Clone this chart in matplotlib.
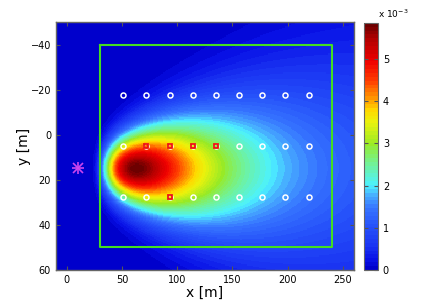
import numpy as np
import matplotlib
matplotlib.use("Agg")
import matplotlib.pyplot as plt
from matplotlib.colors import LinearSegmentedColormap, ListedColormap

# ---- data ----
sensor_x = [51, 72, 93, 114, 135, 156, 177, 198, 219]
sensor_rows = [-17.5, 5, 27.5]
active_x = [72, 93, 114, 135, 93]
active_y = [5, 5, 5, 5, 27.5]
source_xy = (10, 15)
area_x = [30, 240]
area_y = [-40, 50]
# plume model parameters (estimated)
c_max = 5.86e-3
d_peak = 53.0
p_decay = 1.9
s_rise = 1.2
sig0 = 5.0
sig_a = 0.13
xlim = (-10, 260)
ylim = (60, -50)
xticks = [0, 50, 100, 150, 200, 250]
yticks = [-40, -20, 0, 20, 40, 60]
cticks = [0, 1, 2, 3, 4, 5]

# ---- field ----
xs = np.arange(xlim[0], xlim[1] + 0.5, 0.5)
ys = np.arange(ylim[1], ylim[0] + 0.5, 0.5)
X, Y = np.meshgrid(xs, ys)
d = X - source_xy[0]
C = np.zeros_like(X)
m = d > 0.5
dm = d[m]
f = (d_peak / dm) ** p_decay * np.exp((p_decay / s_rise) * (1 - (d_peak / dm) ** s_rise))
sig = sig0 + sig_a * dm
C[m] = c_max * f * np.exp(-(Y[m] - source_xy[1]) ** 2 / (2 * sig ** 2))

nodes = [(0.0, (0.0, 0.0, 0.80)), (0.03, (0.03, 0.06, 0.90)),
         (0.09, (0.10, 0.20, 0.95)), (0.17, (0.15, 0.32, 0.98)),
         (0.25, (0.22, 0.47, 1.0)), (0.30, (0.28, 0.68, 1.0)),
         (0.34, (0.30, 0.95, 1.0)), (0.43, (0.45, 0.95, 0.58)),
         (0.51, (0.60, 0.92, 0.15)), (0.60, (0.92, 0.95, 0.05)),
         (0.65, (1.0, 0.85, 0.0)), (0.69, (1.0, 0.62, 0.0)),
         (0.77, (1.0, 0.25, 0.0)), (0.85, (0.94, 0.0, 0.0)),
         (0.94, (0.70, 0.0, 0.0)), (1.0, (0.43, 0.0, 0.0))]
base = LinearSegmentedColormap.from_list("jetlike", nodes)
cmap = ListedColormap(base(np.linspace(0, 1, 64)))

fig = plt.figure(figsize=(4.3, 3.05), dpi=100)
ax = fig.add_axes([0.130, 0.115, 0.693, 0.813])
im = ax.imshow(C, extent=[xs[0], xs[-1], ys[-1], ys[0]], origin="upper",
               aspect="auto", cmap=cmap, vmin=0, vmax=c_max, interpolation="nearest")
ax.set_xlim(*xlim)
ax.set_ylim(*ylim)

# monitoring area
ax.plot([area_x[0], area_x[1], area_x[1], area_x[0], area_x[0]],
        [area_y[0], area_y[0], area_y[1], area_y[1], area_y[0]],
        color="#44dd22", lw=1.5)

# sensors
SX, SY = np.meshgrid(sensor_x, sensor_rows)
ax.plot(SX.ravel(), SY.ravel(), "o", ms=3.6, mfc="none", mec="white", mew=1.1)
ax.plot(active_x, active_y, "s", ms=3.4, mfc="none", mec="#ee1111", mew=1.3)
# source (asterisk)
ax.plot([source_xy[0]], [source_xy[1]], "+", ms=9, color="#cc44ee", mew=1.2)
ax.plot([source_xy[0]], [source_xy[1]], "x", ms=6.5, color="#cc44ee", mew=1.2)

ax.set_xticks(xticks)
ax.set_yticks(yticks)
ax.set_yticklabels([str(v).replace("-", "\u2212") for v in yticks])
ax.tick_params(direction="in", length=3, labelsize=7, top=True, right=True,
               color="#555555", width=0.8)
for sp in ax.spines.values():
    sp.set_color("#666666")
    sp.set_linewidth(1.0)
ax.set_xlabel("x [m]", fontsize=10, labelpad=1)
ax.set_ylabel("y [m]", fontsize=10, labelpad=0)

cax = fig.add_axes([0.8465, 0.115, 0.0326, 0.81])
cb = fig.colorbar(im, cax=cax, ticks=[v * 1e-3 for v in cticks])
cb.ax.set_yticklabels([str(v) for v in cticks])
cb.ax.tick_params(direction="in", length=3, labelsize=7, left=True, right=True,
                  color="#555555", width=0.8)
cb.outline.set_edgecolor("#666666")
cax.text(1.0, 1.01, r"x 10$^{-3}$", transform=cax.transAxes, fontsize=6.5,
         ha="left", va="bottom")

fig.savefig("out.png", dpi=100)
